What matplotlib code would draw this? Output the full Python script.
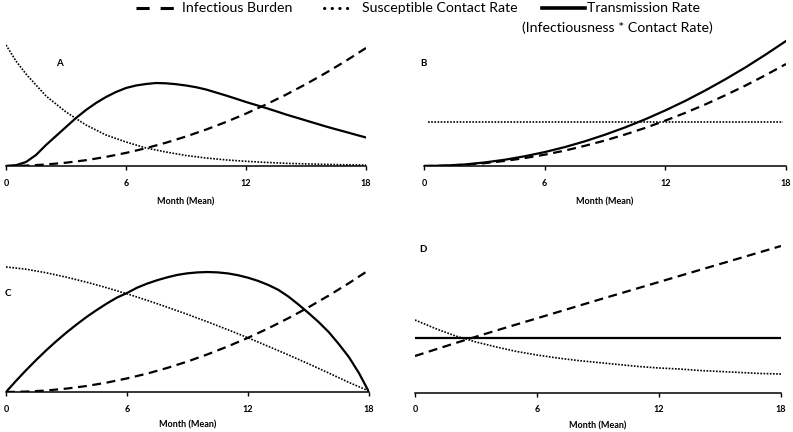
import matplotlib.pyplot as plt
from matplotlib.lines import Line2D

plt.rcParams['font.family'] = ['Lato', 'DejaVu Sans']

months = list(range(19))
half_months = [i / 2 for i in range(37)]

# Panel A
a_burden = [0, 0.4, 1.5, 3.3, 5.8, 9.1, 13.1, 17.8, 23.3, 29.5, 36.4, 44.0,
            52.4, 61.5, 71.3, 81.9, 93.2, 105.2, 118]
a_contact_months = [0, 0.5] + months[1:]
a_contact = [121, 105, 92, 70, 54, 41, 31, 24, 18, 14, 10.5, 8, 6.1, 4.7, 3.6,
             2.7, 2.1, 1.6, 1.2, 0.9]
a_trans = [0, 0.8, 4, 11, 21, 30, 39, 48, 56, 63, 69, 74, 78, 80.5, 82, 83,
           82.7, 81.8, 80.5, 78.8, 76.5, 73.5, 70.5, 67.3, 64, 61, 58, 54.8,
           51.5, 48.5, 45.5, 42.5, 39.5, 36.7, 34, 31.2, 28.5]

# Panel B
b_burden = [0, 0.3, 1.3, 2.8, 5.0, 7.9, 11.3, 15.4, 20.2, 25.5, 31.5, 38.1,
            45.4, 53.2, 61.7, 70.9, 80.6, 91.0, 102]
b_contact_months = [0.2, 17.85]
b_contact = [44, 44]
b_trans = [0, 0.4, 1.5, 3.5, 6.2, 9.7, 13.9, 18.9, 24.7, 31.3, 38.6, 46.7,
           55.6, 65.2, 75.7, 86.9, 98.8, 111.6, 125]

# Panel C
c_burden = [0, 0.4, 1.5, 3.4, 6.0, 9.4, 13.6, 18.4, 24.1, 30.5, 37.7, 45.6,
            54.2, 63.6, 73.8, 84.7, 96.4, 108.8, 122]
c_contact = [125, 122.8, 119.2, 114.8, 109.8, 104.2, 98.2, 91.7, 84.8, 77.6,
             70.1, 62.3, 54.2, 45.7, 37.1, 28.2, 19.0, 9.6, 1]
c_trans = [0, 11.2, 21.9, 32.1, 41.8, 50.9, 59.5, 67.5, 75.1, 82.0, 88.5, 94.4,
           99.0, 104.3, 108.4, 111.8, 114.7, 117.1, 118.7, 119.6, 120, 119.6,
           118.6, 116.8, 114.3, 111.1, 107.1, 102.2, 95.5, 87.5, 79, 70, 60,
           48, 35, 19, 0]

# Panel D
d_burden = [37, 43.5, 50, 56.3, 62.5, 68.6, 74.7, 80.8, 86.9, 93, 99, 105,
            111, 117, 123, 129, 135, 141, 147]
d_contact = [73, 64.5, 57, 51, 46, 41.5, 38, 35, 32.5, 30.5, 28.5, 26.5, 25,
             24, 22.5, 21.5, 20.5, 19.5, 19]
d_trans = [55] * 19

ticks = [0, 6, 12, 18]

W, H = 793, 432
fig = plt.figure(figsize=(W / 100, H / 100), dpi=100)


def px_axes(left, right, bottom, top):
    return fig.add_axes([left / W, 1 - bottom / H, (right - left) / W, (bottom - top) / H])


dash = (0, (4, 2.5))
dot = (0, (1, 0.9))

panels = [
    (px_axes(6, 366, 166, 38), 128, 7, a_burden, a_contact_months, a_contact, half_months, a_trans),
    (px_axes(424, 786, 166, 38), 128, 7, b_burden, b_contact_months, b_contact, months, b_trans),
    (px_axes(6, 369, 392, 240), 152, 5, c_burden, months, c_contact, half_months, c_trans),
    (px_axes(415, 781, 393, 241), 152, 5, d_burden, months, d_contact, months, d_trans),
]

for ax, ytop, lpad, burden, xc, contact, xt, trans in panels:
    ax.plot(months, burden, color='black', lw=1.6, linestyle=dash)
    ax.plot(xc, contact, color='black', lw=1.2, linestyle=dot)
    ax.plot(xt, trans, color='black', lw=1.6)
    ax.set_xlim(0, 18)
    ax.set_ylim(0, ytop)
    for s in ['top', 'right', 'left']:
        ax.spines[s].set_visible(False)
    ax.spines['bottom'].set_linewidth(1.1)
    ax.set_yticks([])
    ax.set_xticks(ticks)
    ax.tick_params(axis='x', direction='out', length=3, width=1, pad=6, labelsize=6.5)
    for lab in ax.get_xticklabels():
        lab.set_fontweight('bold')
    ax.set_xlabel('Month (Mean)', fontsize=6.5, fontweight='bold', labelpad=lpad)
    ax.patch.set_alpha(0)

# panel letters
for letter, x, y in [('A', 56, 63), ('B', 420, 63), ('C', 5, 293), ('D', 419, 250)]:
    fig.text(x / W, 1 - y / H, letter, fontsize=7, fontweight='bold',
             ha='left', va='center')

# legend at the top
ly = 1 - 8 / H
fs = 10.2
fig.add_artist(Line2D([136 / W, 174 / W], [ly, ly], color='black', lw=2.2,
                      linestyle=(0, (4.3, 3.6)), transform=fig.transFigure))
fig.text(182 / W, ly, 'Infectious Burden', fontsize=fs, va='center', ha='left')
fig.add_artist(Line2D([324 / W, 353 / W], [ly, ly], color='black', lw=2.2,
                      linestyle=(0, (0.1, 2.4)), dash_capstyle='round',
                      transform=fig.transFigure))
fig.text(362 / W, ly, 'Susceptible Contact Rate', fontsize=fs, va='center', ha='left')
fig.add_artist(Line2D([542 / W, 585 / W], [ly, ly], color='black', lw=2.6,
                      transform=fig.transFigure))
fig.text(587 / W, ly, 'Transmission Rate', fontsize=fs, va='center', ha='left')
fig.text(617 / W, 1 - 28 / H, '(Infectiousness * Contact Rate)', fontsize=fs,
         va='center', ha='center')

fig.savefig('out.png', dpi=100)
